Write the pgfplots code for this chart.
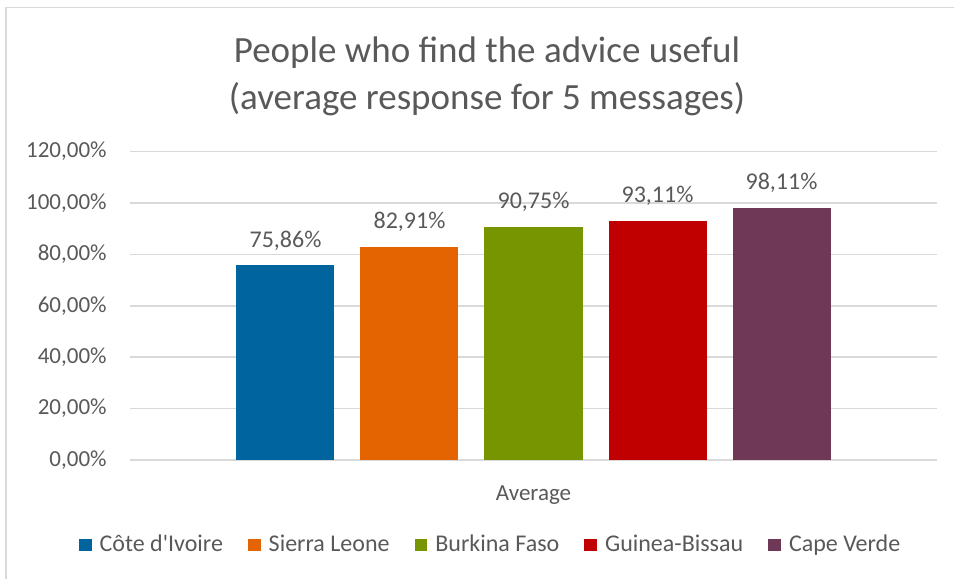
\documentclass[border=0pt]{standalone}
\usepackage{fontspec}
\setmainfont{Carlito}
\usepackage{pgfplots}
\pgfplotsset{compat=1.18}
\definecolor{txt}{HTML}{595959}
\definecolor{gridc}{HTML}{D9D9D9}
\definecolor{civ}{HTML}{00659E}
\definecolor{sle}{HTML}{E36400}
\definecolor{bfa}{HTML}{779500}
\definecolor{gnb}{HTML}{C00000}
\definecolor{cpv}{HTML}{6F3856}

\begin{document}
\begin{tikzpicture}
\path[use as bounding box] (0,0) rectangle (477pt,289.5pt);
\draw[gridc, line width=0.8pt] (3pt,0) -- (3pt,285.75pt) -- (477pt,285.75pt);
\begin{axis}[
  at={(65pt,59.5pt)}, anchor=south west,
  scale only axis, width=403.5pt, height=154.2pt,
  ybar=13pt, bar width=49pt,
  xmin=-1, xmax=1, ymin=0, ymax=120,
  xtick={0}, xticklabels={Average},
  ytick={0,20,...,120},
  axis line style={draw=none},
  tick style={draw=none},
  ymajorgrids,
  grid style={gridc, line width=0.75pt},
  extra y ticks={0}, extra y tick labels={},
  extra y tick style={grid style={gridc, line width=1.2pt}},
  /pgf/number format/assume math mode=true,
  yticklabel={\pgfmathprintnumber[fixed,fixed zerofill,precision=2,use comma]{\tick}\%},
  yticklabel style={font=\fontsize{11.5}{13}\selectfont, text=txt, anchor=east, inner sep=0pt, xshift=-11.5pt},
  xticklabel style={font=\fontsize{11.5}{13}\selectfont, text=txt, anchor=center, yshift=-13.5pt},
  nodes near coords={\pgfmathprintnumber[fixed,fixed zerofill,precision=2,use comma]{\pgfplotspointmeta}\%},
  nodes near coords style={font=\fontsize{12}{14}\selectfont, text=txt, anchor=base, inner sep=0pt, yshift=9pt},
  legend columns=5,
  legend style={at={(0.448,-0.2756)}, anchor=center, draw=none, fill=none,
    font=\fontsize{12}{14}\selectfont, text=txt,
    /tikz/every odd column/.append style={column sep=2pt},
    /tikz/every even column/.append style={column sep=10.5pt}},
  legend image code/.code={\fill[#1] (0pt,-3.2pt) rectangle (6.4pt,3.2pt);},
]
\addplot[fill=civ, draw=none] coordinates {(0,75.86)};
\addplot[fill=sle, draw=none] coordinates {(0,82.91)};
\addplot[fill=bfa, draw=none] coordinates {(0,90.75)};
\addplot[fill=gnb, draw=none] coordinates {(0,93.11)};
\addplot[fill=cpv, draw=none] coordinates {(0,98.11)};
\legend{Côte d\textquotesingle Ivoire, Sierra Leone, Burkina Faso, Guinea-Bissau, Cape Verde}
\end{axis}
\node[text=txt, font=\fontsize{18.5}{23.5}\selectfont, align=center, anchor=base] at (243.5pt,258pt) {People who find the advice useful};
\node[text=txt, font=\fontsize{18.5}{23.5}\selectfont, align=center, anchor=base] at (243.5pt,234.5pt) {(average response for 5 messages)};
\end{tikzpicture}
\end{document}
